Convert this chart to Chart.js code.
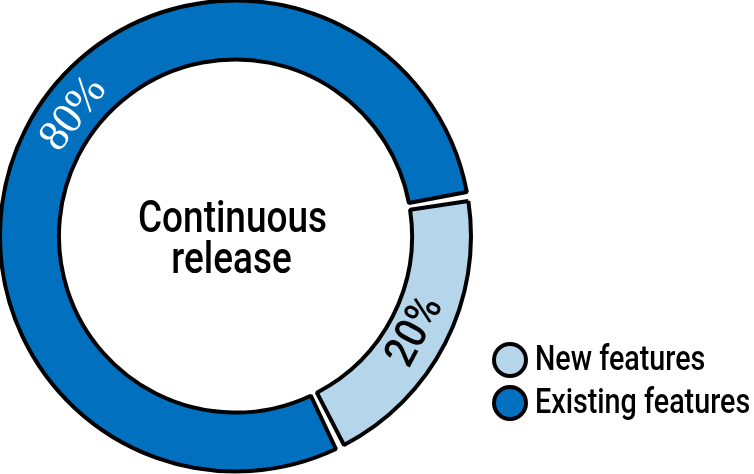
<!DOCTYPE html>
<html><head><meta charset="utf-8">
<script src="https://cdn.jsdelivr.net/npm/chart.js@4.4.0/dist/chart.umd.min.js"></script>
<style>html,body{margin:0;padding:0;background:#fff;overflow:hidden}canvas{display:block}</style>
</head><body>
<canvas id="c" width="754" height="474"></canvas>
<script>
// ---- data ----
const categories = ['New features', 'Existing features'];
const shares = [20, 80];
const sliceLabels = ['20%', '80%'];
const centerLines = ['Continuous', 'release'];

// ---- style ----
const sliceColors = ['#b4d5ea', '#0070bf'];
const labelColors = ['#000000', '#ffffff'];
const sansFamily = 'Roboto, "DejaVu Sans Condensed", sans-serif';
const labelFonts = ['500 44px ' + sansFamily, '44px "Liberation Serif", serif'];
const labelStretch = [0.88, 1];
const labelAngleShift = [1, 10]; // degrees, clockwise
const narrow = 0.84; // horizontal squeeze for the condensed look

function squeezedText(ctx, text, x, y, sx, align) {
  ctx.save();
  ctx.translate(x, y);
  ctx.scale(sx, 1);
  ctx.textAlign = align;
  ctx.fillText(text, 0, 0);
  ctx.restore();
}

const ringLabels = {
  id: 'ringLabels',
  afterDatasetsDraw(chart) {
    const ctx = chart.ctx;
    const meta = chart.getDatasetMeta(0);
    meta.data.forEach((arc, i) => {
      const p = arc.getProps(['x','y','startAngle','endAngle','innerRadius','outerRadius'], true);
      const mid = (p.startAngle + p.endAngle) / 2 + labelAngleShift[i] * Math.PI / 180;
      const r = (p.innerRadius + p.outerRadius) / 2;
      const x = p.x + Math.cos(mid) * r;
      const y = p.y + Math.sin(mid) * r;
      let rot = mid + Math.PI / 2;
      while (rot > Math.PI) rot -= 2 * Math.PI;
      while (rot <= -Math.PI) rot += 2 * Math.PI;
      if (rot > Math.PI / 2) rot -= Math.PI;
      if (rot < -Math.PI / 2) rot += Math.PI;
      ctx.save();
      ctx.translate(x, y);
      ctx.rotate(rot);
      ctx.font = labelFonts[i];
      ctx.fillStyle = labelColors[i];
      ctx.textBaseline = 'middle';
      squeezedText(ctx, sliceLabels[i], 0, 1, labelStretch[i], 'center');
      ctx.restore();
    });
  }
};

const centerText = {
  id: 'centerText',
  afterDraw(chart) {
    const ctx = chart.ctx;
    const arc = chart.getDatasetMeta(0).data[0];
    ctx.save();
    ctx.font = '500 44px ' + sansFamily;
    ctx.fillStyle = '#000';
    ctx.textBaseline = 'alphabetic';
    squeezedText(ctx, centerLines[0], arc.x - 3, arc.y - 4, narrow, 'center');
    squeezedText(ctx, centerLines[1], arc.x - 4, arc.y + 37, narrow, 'center');
    ctx.restore();
  }
};

const sideLegend = {
  id: 'sideLegend',
  afterDraw(chart) {
    const ctx = chart.ctx;
    const x0 = 510, y0 = 360, step = 43;
    ctx.save();
    categories.forEach((c, i) => {
      const cy = y0 + i * step;
      ctx.beginPath();
      ctx.arc(x0, cy, 16, 0, Math.PI * 2);
      ctx.fillStyle = sliceColors[i];
      ctx.fill();
      ctx.lineWidth = 4;
      ctx.strokeStyle = '#000';
      ctx.stroke();
      ctx.font = '500 35px ' + sansFamily;
      ctx.fillStyle = '#000';
      ctx.textBaseline = 'middle';
      squeezedText(ctx, c, 535, cy + 1, 0.82, 'left');
    });
    ctx.restore();
  }
};

new Chart(document.getElementById('c'), {
  type: 'doughnut',
  data: {
    labels: categories,
    datasets: [{
      data: shares,
      backgroundColor: sliceColors,
      borderColor: '#000',
      borderWidth: 4,
      spacing: 5,
      hoverOffset: 0
    }]
  },
  options: {
    responsive: false,
    devicePixelRatio: 1,
    animation: false,
    rotation: 81,
    cutout: '74.7%',
    radius: 233,
    layout: { padding: { left: 0, right: 283, top: 0, bottom: 2 } },
    plugins: { legend: { display: false }, tooltip: { enabled: false } }
  },
  plugins: [ringLabels, centerText, sideLegend]
});
</script>
</body></html>
